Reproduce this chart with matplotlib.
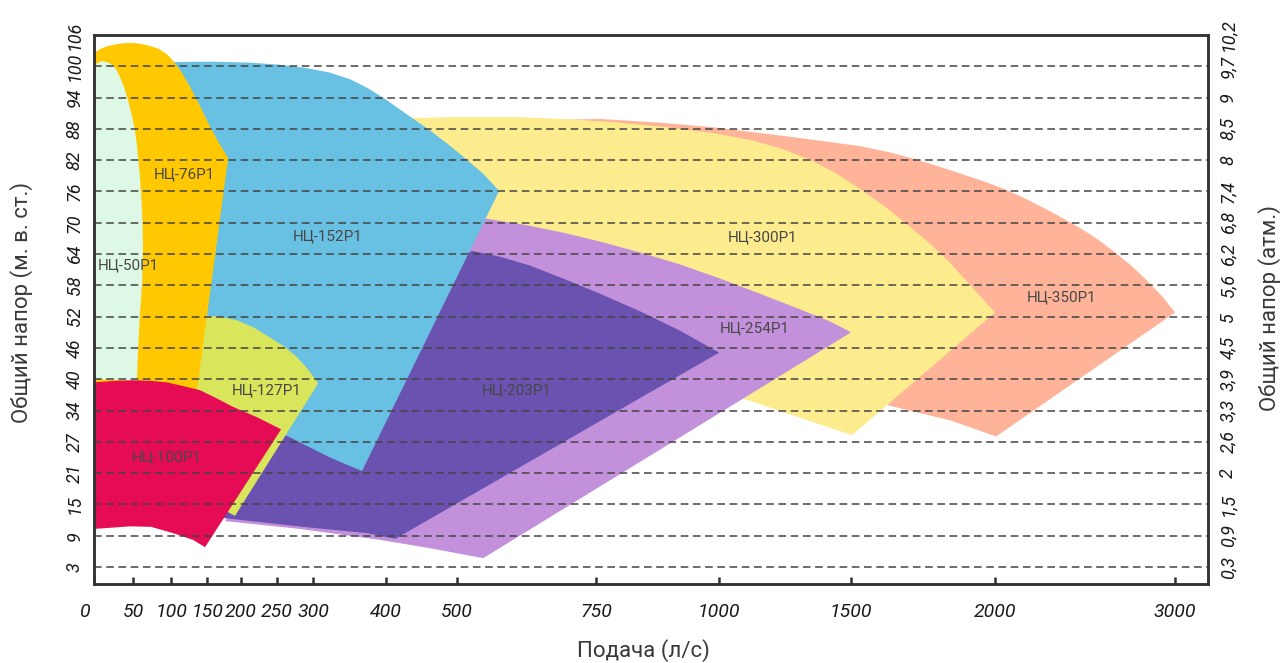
import numpy as np
import matplotlib
matplotlib.use("Agg")
import matplotlib.pyplot as plt

plt.rcParams['font.family'] = ['Roboto', 'DejaVu Sans']

# x axis: flow ticks and their spacing along the axis (the axis is not linear)
FLOW_TICKS = [0, 50, 100, 150, 200, 250, 300, 400, 500, 750, 1000, 1500, 2000, 3000]
FLOW_POS = [0, 39, 77, 113, 147, 183, 219, 292, 363, 502, 625, 757, 901, 1081]

# y axis: head ticks are equally spaced, right side shows the same in atm
HEAD_TICKS = [3, 9, 15, 21, 27, 34, 40, 46, 52, 58, 64, 70, 76, 82, 88, 94, 100, 106]
ATM_LABELS = ['0,3', '0,9', '1,5', '2', '2,6', '3,3', '3,9', '4,5', '5', '5,6',
              '6,2', '6,8', '7,4', '8', '8,5', '9', '9,7', '10,2']

# pump working areas: outline as (flow l/s, head m)
Q_350 = [613, 758, 880, 988, 1269, 1531, 1635, 1729, 1844, 1958, 2056, 2195, 2333, 2472,
         2567, 2656, 2750, 2845, 2928, 3000, 2006, 1844, 1629, 1531, 1307]
H_350 = [89.6, 89.9, 89.2, 88.3, 86.5, 84.7, 83.5, 82.1, 80.1, 78.0, 76.4, 74.2, 71.7, 69.0,
         66.9, 64.6, 62.0, 58.9, 55.9, 52.8, 28.2, 31.8, 35.0, 39.8, 64.6]

Q_300 = [427, 438, 511, 601, 691, 785, 886, 988, 1117, 1231, 1345, 1439, 1531, 1618, 1705,
         1774, 1844, 1903, 1955, 2000, 1503, 1091, 840, 523, 420]
H_300 = [89.9, 90.1, 90.3, 90.3, 89.9, 89.3, 88.4, 87.2, 85.9, 84.3, 82.1, 79.6, 76.5, 73.1,
         69.2, 66.0, 62.3, 58.7, 55.5, 52.8, 28.5, 36.3, 39.8, 62.7, 74.2]

Q_254 = [552, 622, 691, 758, 840, 921, 1004, 1155, 1307, 1420, 1500, 547, 462, 392, 282,
         176.5, 282, 448]
H_254 = [70.8, 69.6, 68.1, 66.4, 64.3, 62.0, 59.3, 56.4, 53.4, 51.1, 49.0, 4.7, 6.6, 8.2,
         10.3, 11.8, 35.9, 68.5]

Q_203 = [527, 577, 631, 691, 758, 840, 921, 1000, 413, 374, 286, 173.5, 198.5, 254, 364]
H_203 = [64.6, 63.5, 61.8, 59.3, 56.4, 53.0, 49.3, 45.1, 8.4, 9.5, 10.7, 12.4, 27.3, 31.8, 55.1]

Q_152 = [85.5, 85.5, 103, 154, 212.5, 254, 289, 323, 351, 375, 399, 427, 459, 487, 514,
         547, 575.6, 367, 323, 268, 212.5, 140]
H_152 = [37.9, 100.8, 100.8, 100.9, 100.7, 100.3, 99.7, 98.8, 97.5, 95.8, 93.7, 91.0, 88.0,
         85.1, 82.4, 79.4, 76.1, 21.4, 24.0, 28.0, 31.8, 36.0]

Q_127 = [126, 150, 172, 194, 218, 240, 260, 278, 293, 307, 191, 181, 140]
H_127 = [52.0, 52.2, 51.9, 51.3, 49.9, 48.0, 46.3, 44.2, 41.9, 39.2, 12.8, 13.5, 15.8]

Q_76 = [0, 0, 7.7, 18, 31, 43.6, 56.6, 69.7, 83, 94.7, 105.6, 115.3, 125, 134.7, 144.4,
        154.4, 167.6, 181, 159, 136, 126]
H_76 = [36, 102.5, 103.3, 103.9, 104.3, 104.5, 104.4, 104.0, 103.4, 102.3, 100.6, 98.7,
        96.4, 93.9, 91.2, 88.4, 85.3, 82.4, 61, 38, 36]

Q_50 = [0, 0, 3.8, 10.3, 16.7, 23.1, 28.2, 33.3, 38.5, 43.6, 48.7, 52.6, 55.3, 59, 62, 63,
        62, 59, 56.5, 55]
H_50 = [40, 99.8, 100.6, 101, 100.8, 100.3, 99.5, 97.9, 96.0, 93.5, 90.5, 87.6, 84.7, 79.0,
        72.3, 65.6, 58.9, 52.2, 45.5, 39.8]

Q_100 = [0, 27, 50, 72.4, 94.7, 119.4, 140.3, 164.7, 188.2, 222.2, 255.6, 147.2, 130.6,
         102.8, 73.7, 46.2, 0]
H_100 = [39.4, 39.7, 39.8, 39.7, 39.4, 38.6, 37.9, 36.3, 34.7, 32.5, 29.8, 6.8, 8.2, 9.5,
         10.7, 10.8, 10.3]

# name, outline, colour, label position (back to front)
areas = [
    ('НЦ-350Р1', Q_350, H_350, '#FFB398', (2372, 55.7)),
    ('НЦ-300Р1', Q_300, H_300, '#FDEC8E', (1163, 67.1)),
    ('НЦ-254Р1', Q_254, H_254, '#C391DC', (1136, 49.7)),
    ('НЦ-203Р1', Q_203, H_203, '#6A52B0', (608, 37.9)),
    ('НЦ-152Р1', Q_152, H_152, '#68C0E2', (320, 67.3)),
    ('НЦ-127Р1', Q_127, H_127, '#D9E65C', (236, 37.9)),
    ('НЦ-76Р1', Q_76, H_76, '#FFC800', (118, 79.2)),
    ('НЦ-50Р1', Q_50, H_50, '#DDF8E4', (43.6, 61.8)),
    ('НЦ-100Р1', Q_100, H_100, '#E60B55', (94.7, 24.0)),
]

fq = [-100] + FLOW_TICKS + [3500]
fp = [-78] + FLOW_POS + [1171]
hv = [-3] + HEAD_TICKS + [112]
hi = [-1] + list(range(len(HEAD_TICKS))) + [len(HEAD_TICKS)]


def x_fwd(q):
    return np.interp(q, fq, fp)


def x_inv(p):
    return np.interp(p, fp, fq)


def y_fwd(h):
    return np.interp(h, hv, hi)


def y_inv(i):
    return np.interp(i, hi, hv)


fig = plt.figure(figsize=(12.85, 6.63), dpi=100)
ax = fig.add_axes([0.0732, 0.1192, 0.8669, 0.828])
ax.set_xscale('function', functions=(x_fwd, x_inv))
ax.set_yscale('function', functions=(y_fwd, y_inv))
ax.set_xlim(0, 3183)
ax.set_ylim(-0.25, 106)

for i, (name, q, h, col, lab) in enumerate(areas):
    ax.fill(q, h, color=col, lw=0, zorder=1 + i * 0.01)
    ax.text(lab[0], lab[1], name, ha='center', va='center', fontsize=11,
            color='#474747', zorder=5)

# dashed grid on top of the areas
ax.set_axisbelow(False)
ax.yaxis.grid(True, linestyle=(0, (5, 3)), color='#444444', lw=1.1, zorder=4)

xlabels = [str(v) for v in FLOW_TICKS]
xlabels[0] = ''
ax.set_xticks(FLOW_TICKS)
ax.set_xticklabels(xlabels, fontstyle='italic', fontsize=14, color='#1a1a1a')
ax.tick_params(axis='x', direction='in', length=5, width=1.8, color='#333333', pad=13.5)
# the "0" sits a little left of the corner
ax.annotate(str(FLOW_TICKS[0]), xy=(FLOW_TICKS[0], 0), xycoords=('data', 'axes fraction'),
            xytext=(-6.5, -13.5), textcoords='offset points', ha='center', va='top',
            fontstyle='italic', fontsize=14, color='#1a1a1a')

ax.set_yticks(HEAD_TICKS)
ax.set_yticklabels([str(v) for v in HEAD_TICKS], fontstyle='italic', fontsize=13,
                   rotation=90, va='center', color='#1a1a1a')
ax.tick_params(axis='y', length=0, pad=7.5)

for s in ax.spines.values():
    s.set_color('#333333')
    s.set_linewidth(1.8)
    s.set_zorder(6)

ax2 = ax.twinx()
ax2.set_yscale('function', functions=(y_fwd, y_inv))
ax2.set_ylim(-0.25, 106)
ax2.set_yticks(HEAD_TICKS)
ax2.set_yticklabels(ATM_LABELS, fontstyle='italic', fontsize=13, rotation=90,
                    va='center', color='#1a1a1a')
ax2.tick_params(axis='y', length=0, pad=8)
for s in ax2.spines.values():
    s.set_color('#333333')
    s.set_linewidth(1.8)

ax.set_xlabel('Подача (л/с)', fontsize=16, color='#3a3a3a')
ax.xaxis.set_label_coords(0.493, -0.1)
ax.set_ylabel('Общий напор (м. в. ст.)', fontsize=16, color='#3a3a3a')
ax.yaxis.set_label_coords(-0.055, 0.512)
ax2.set_ylabel('Общий напор (атм.)', fontsize=16, color='#3a3a3a')
ax2.yaxis.set_label_coords(1.045, 0.503)

fig.savefig('out.png', dpi=100)
